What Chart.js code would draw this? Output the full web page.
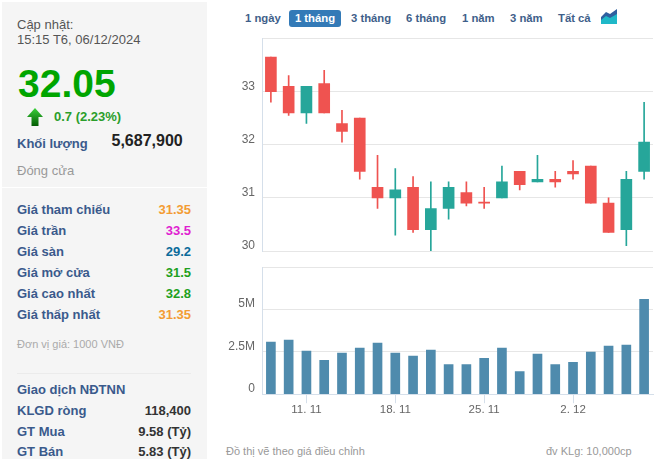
<!DOCTYPE html>
<html lang="vi">
<head>
<meta charset="UTF-8">
<title>Biểu đồ giá</title>
<script src="https://cdn.jsdelivr.net/npm/chart.js"></script>
<style>
  html, body { margin: 0; padding: 0; background: #fff; }
  body { width: 665px; height: 459px; overflow: hidden; position: relative; font-family: "Liberation Sans", Arial, sans-serif; }
  .abs { position: absolute; white-space: nowrap; line-height: 16px; }
  #panel { position: absolute; left: 2px; top: 2px; width: 205px; height: 457px; background: #f5f5f5; }
  .sep { position: absolute; height: 1px; background: #ebebeb; }
  .lbl { left: 17px; font-weight: bold; font-size: 13px; color: #3a5a8c; }
  .val { right: 474px; font-weight: bold; font-size: 13px; color: #333; }
  .btn { top: 10px; height: 17px; line-height: 17px; font-size: 11.3px; font-weight: bold; color: #3f5f8a; }
  #active { left: 289px; width: 52px; background: #337ab7; color: #fff; border-radius: 3px; text-align: center; }
  canvas { position: absolute; }
</style>
</head>
<body>
<div id="panel"></div>
<div class="sep" style="left:2px;top:187px;width:205px;background:#fff"></div>
<div class="sep" style="left:17px;top:373px;width:174px"></div>

<div class="abs" style="left:17px;top:17px;font-size:13px;line-height:15px;color:#555">Cập nhật:<br>15:15 T6, 06/12/2024</div>
<div class="abs" style="left:18px;top:63px;font-size:39px;line-height:42px;font-weight:bold;color:#00a500">32.05</div>
<svg class="abs" style="left:27px;top:108px" width="16" height="18" viewBox="0 0 16 18">
  <defs><linearGradient id="up" x1="0" y1="0" x2="0" y2="1"><stop offset="0" stop-color="#3ad13a"/><stop offset="1" stop-color="#045c04"/></linearGradient></defs>
  <path d="M8 0 L16 9 L11.5 9 L11.5 18 L4.5 18 L4.5 9 L0 9 Z" fill="url(#up)"/>
</svg>
<div class="abs" style="left:54px;top:109px;font-size:13px;font-weight:bold;color:#2b9e2b">0.7 (2.23%)</div>
<div class="abs lbl" style="top:136px">Khối lượng</div>
<div class="abs" style="left:111.5px;top:133px;font-size:16px;font-weight:bold;color:#222">5,687,900</div>
<div class="abs" style="left:17px;top:163px;font-size:13px;color:#999">Đóng cửa</div>

<div class="abs lbl" style="top:202px">Giá tham chiếu</div><div class="abs val" style="top:202px;color:#f39c34">31.35</div>
<div class="abs lbl" style="top:223px">Giá trần</div><div class="abs val" style="top:223px;color:#e01fd0">33.5</div>
<div class="abs lbl" style="top:244px">Giá sàn</div><div class="abs val" style="top:244px;color:#0b6b9b">29.2</div>
<div class="abs lbl" style="top:265px">Giá mở cửa</div><div class="abs val" style="top:265px;color:#1ea01e">31.5</div>
<div class="abs lbl" style="top:286px">Giá cao nhất</div><div class="abs val" style="top:286px;color:#1ea01e">32.8</div>
<div class="abs lbl" style="top:307px">Giá thấp nhất</div><div class="abs val" style="top:307px;color:#f39c34">31.35</div>
<div class="abs" style="left:17px;top:336px;font-size:11px;color:#aaa">Đơn vị giá: 1000 VNĐ</div>

<div class="abs lbl" style="top:382px">Giao dịch NĐTNN</div>
<div class="abs lbl" style="top:403px">KLGD ròng</div><div class="abs val" style="top:403px">118,400</div>
<div class="abs lbl" style="top:424px">GT Mua</div><div class="abs val" style="top:424px">9.58 (Tỷ)</div>
<div class="abs lbl" style="top:444px">GT Bán</div><div class="abs val" style="top:444px">5.83 (Tỷ)</div>

<div class="abs btn" style="left:245px">1 ngày</div>
<div class="abs btn" id="active">1 tháng</div>
<div class="abs btn" style="left:351px">3 tháng</div>
<div class="abs btn" style="left:406px">6 tháng</div>
<div class="abs btn" style="left:462px">1 năm</div>
<div class="abs btn" style="left:510px">3 năm</div>
<div class="abs btn" style="left:558px">Tất cả</div>
<svg class="abs" style="left:601px;top:9px" width="16" height="15" viewBox="0 0 16 15">
  <path d="M0 8 L5 3 L9 5 L16 0 L16 15 L0 15 Z" fill="#2f5f9f"/>
  <path d="M0 11 L5 7 L9 9 L16 5 L16 15 L0 15 Z" fill="#1fb8c8"/>
</svg>

<canvas id="priceChart" width="436" height="226" style="left:220px;top:30px"></canvas>
<canvas id="volumeChart" width="436" height="157" style="left:220px;top:260px"></canvas>

<div class="abs" style="left:226px;top:443px;font-size:11px;color:#999">Đồ thị vẽ theo giá điều chỉnh</div>
<div class="abs" style="left:546px;top:443px;font-size:11px;color:#999">đv KLg: 10,000cp</div>

<script>
  const dates = ['7. 11', '8. 11', '11. 11', '12. 11', '13. 11', '14. 11', '15. 11', '18. 11', '19. 11', '20. 11', '21. 11',
                 '22. 11', '25. 11', '26. 11', '27. 11', '28. 11', '29. 11', '2. 12', '3. 12', '4. 12', '5. 12', '6. 12'];
  const shownDates = ['11. 11', '18. 11', '25. 11', '2. 12'];

  const opens  = [33.65, 33.1, 32.6, 33.15, 32.4, 32.5, 31.2, 31.0, 31.2, 30.4, 30.8, 31.1, 30.9, 31.0, 31.5, 31.3, 31.35, 31.5, 31.6, 30.9, 30.4, 31.5];
  const closes = [33.0, 32.6, 33.1, 32.6, 32.25, 31.5, 31.0, 31.15, 30.4, 30.8, 31.2, 30.9, 30.9, 31.3, 31.25, 31.35, 31.3, 31.45, 30.9, 30.35, 31.35, 32.05];
  const highs  = [33.65, 33.3, 33.1, 33.4, 32.65, 32.5, 31.8, 31.55, 31.4, 31.3, 31.3, 31.3, 31.2, 31.6, 31.5, 31.8, 31.5, 31.7, 31.6, 31.0, 31.5, 32.8];
  const lows   = [32.8, 32.55, 32.4, 32.6, 32.05, 31.35, 30.8, 30.3, 30.35, 30.0, 30.6, 30.85, 30.8, 31.0, 31.15, 31.3, 31.2, 31.35, 30.9, 30.35, 30.1, 31.35];
  const volumes = [3090000, 3210000, 2550000, 2000000, 2430000, 2730000, 3030000, 2430000, 2250000, 2610000, 1760000,
                   1760000, 2130000, 2730000, 1340000, 2370000, 1760000, 1880000, 2490000, 2850000, 2910000, 5620000];

  const priceTicks = { 30: '30', 31: '31', 32: '32', 33: '33' };
  const volumeTicks = { 0: '0', 2500000: '2.5M', 5000000: '5M' };

  const RED = '#ef5350', TEAL = '#26a69a';
  const candleColors = opens.map((o, i) => closes[i] > o ? TEAL : RED);

  const tickFont = { family: '"Liberation Sans", Arial, sans-serif', size: 12 };
  const gridColor = '#e6e6e6', axisColor = '#d5dfea';
  // fixed axis width, and no room reserved around the plot for the y labels
  const fixWidth = scale => { scale.width = 42; scale.paddingTop = 0; scale.paddingBottom = 0; };
  // an empty second line lifts the label above its grid line
  const raised = text => text ? [text, ''] : '';

  new Chart(document.getElementById('priceChart'), {
    type: 'bar',
    data: {
      labels: dates,
      datasets: [
        { data: lows.map((l, i) => [l, highs[i]]), backgroundColor: candleColors, barThickness: 1, grouped: false, order: 2 },
        { data: opens.map((o, i) => [o, closes[i]]), backgroundColor: candleColors, barThickness: 11, minBarLength: 1, grouped: false, order: 1 }
      ]
    },
    options: {
      responsive: false,
      animation: false,
      layout: { padding: { top: 8.5, right: 3, bottom: 5 } },
      plugins: { legend: { display: false }, tooltip: { enabled: false } },
      scales: {
        x: { display: false },
        y: {
          min: 30, max: 34,
          afterFit: fixWidth,
          grid: { color: gridColor, drawTicks: false },
          border: { color: axisColor },
          ticks: { stepSize: 1, padding: 7, color: '#666', font: { ...tickFont, lineHeight: 0.85 }, callback: v => raised(priceTicks[v]) }
        }
      }
    }
  });

  new Chart(document.getElementById('volumeChart'), {
    type: 'bar',
    data: {
      labels: dates,
      datasets: [{ data: volumes, backgroundColor: '#4f8bad', barThickness: 9 }]
    },
    options: {
      responsive: false,
      animation: false,
      layout: { padding: { top: 7.5, right: 3 } },
      plugins: { legend: { display: false }, tooltip: { enabled: false } },
      scales: {
        x: {
          grid: {
            offset: false, drawOnChartArea: false, tickLength: 9,
            tickColor: ctx => shownDates.includes(dates[ctx.index]) ? axisColor : 'transparent'
          },
          border: { color: axisColor },
          ticks: {
            autoSkip: false, maxRotation: 0, padding: 0, color: '#666', font: { ...tickFont, size: 11.5 },
            callback: (v, i) => shownDates.includes(dates[i]) ? dates[i] : ''
          }
        },
        y: {
          min: 0, max: 7500000,
          afterFit: fixWidth,
          grid: { color: gridColor, drawTicks: false },
          border: { color: axisColor },
          ticks: { stepSize: 2500000, padding: 7, color: '#666', font: { ...tickFont, lineHeight: 0.95 }, callback: v => raised(volumeTicks[v]) }
        }
      }
    }
  });
</script>
</body>
</html>
